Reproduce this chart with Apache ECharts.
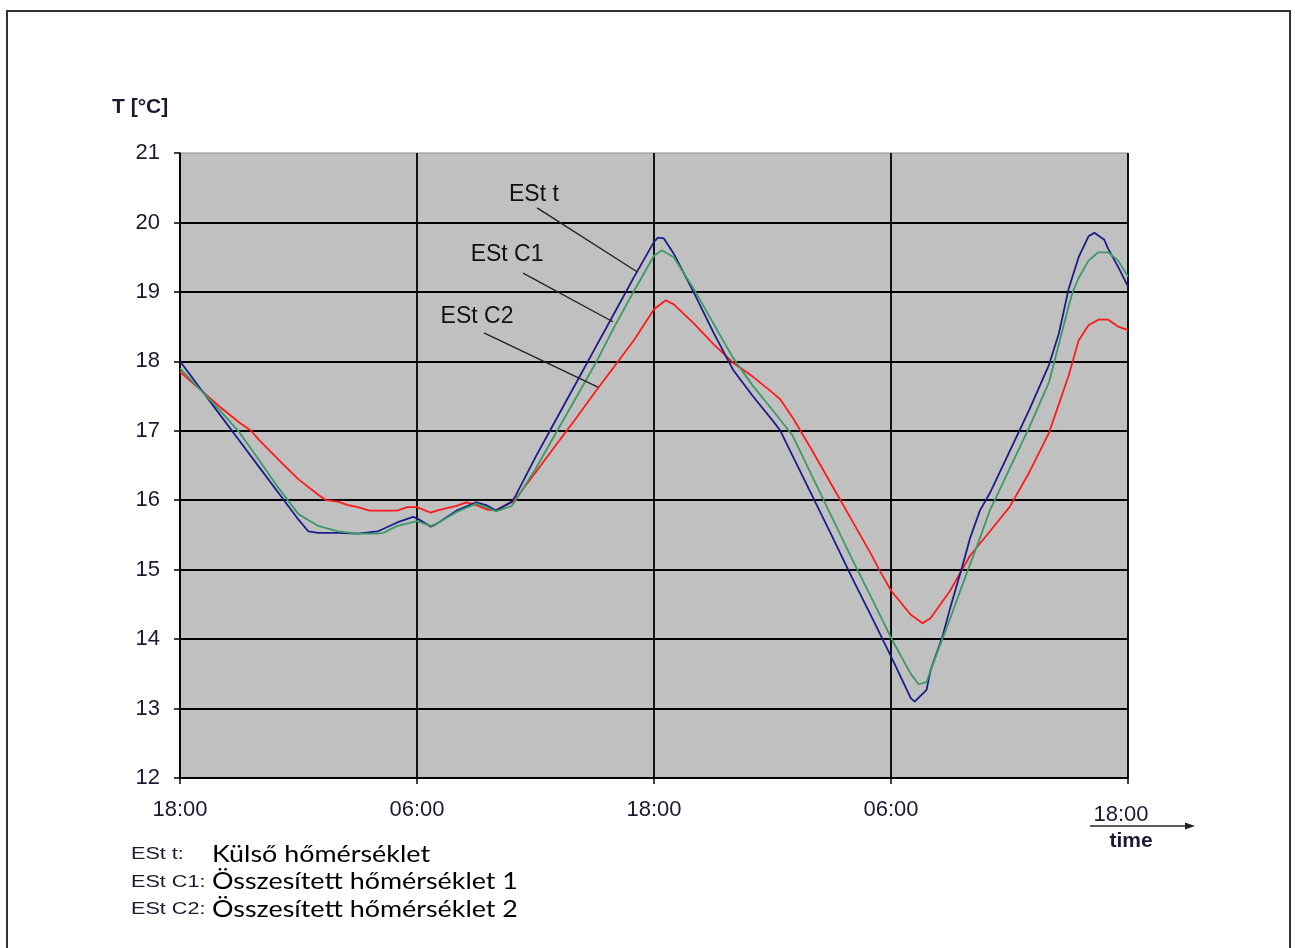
<!DOCTYPE html>
<html>
<head>
<meta charset="utf-8">
<script src="https://cdn.jsdelivr.net/npm/echarts@6/dist/echarts.min.js"></script>
<style>
html,body{margin:0;padding:0;background:#fff;}
#c{width:1295px;height:948px;}
</style>
</head>
<body>
<div id="c"></div>
<script>
// x values are hours elapsed since the first 18:00
var xTickLabels = ['18:00', '06:00', '18:00', '06:00', '18:00'];
var yTicks = [12, 13, 14, 15, 16, 17, 18, 19, 20, 21];

var estT = [
  [0,18.0],[1,17.62],[2,17.24],[3,16.86],[4,16.48],[5,16.1],[6,15.72],[6.5,15.55],[7,15.53],[8,15.53],[9,15.52],[10,15.55],
  [11,15.68],[11.8,15.76],[12,15.74],[12.7,15.62],[13,15.66],[14,15.85],[15,15.97],[15.5,15.93],[16,15.85],[16.8,15.98],
  [17,16.07],[18,16.62],[19,17.14],[20,17.66],[21,18.18],[22,18.7],[23,19.22],[24,19.72],[24.2,19.78],[24.5,19.77],
  [25,19.55],[26,19.0],[27,18.42],[28,17.88],[29,17.5],[30,17.15],[30.4,17.0],[31,16.65],[32,16.07],[33,15.49],
  [34,14.9],[35,14.33],[36,13.75],[37,13.15],[37.2,13.1],[37.8,13.27],[38,13.55],[38.6,14.03],[39,14.45],[39.6,15.04],
  [40,15.45],[40.5,15.85],[41,16.1],[42,16.7],[43,17.3],[44,17.95],[44.5,18.4],[45,19.05],[45.5,19.5],[46,19.8],
  [46.3,19.85],[46.8,19.75],[47,19.62],[47.5,19.36],[48,19.08]
];
var estC1 = [
  [0,17.9],[1,17.6],[2,17.3],[3,16.98],[4,16.58],[5,16.17],[6,15.8],[7,15.63],[8,15.55],[9,15.52],[10,15.52],[10.3,15.53],
  [11,15.63],[12,15.7],[12.7,15.63],[13,15.66],[14,15.83],[15,15.95],[15.5,15.9],[16,15.84],[16.8,15.92],[17,16.0],
  [18,16.45],[19,16.95],[20,17.45],[21,17.95],[22,18.5],[23,19.02],[24,19.52],[24.4,19.6],[25,19.5],[26,19.05],
  [27,18.55],[28,18.05],[29,17.65],[30,17.3],[31,16.94],[32,16.35],[33,15.76],[34,15.17],[35,14.6],[36,14.02],
  [37,13.5],[37.4,13.35],[37.8,13.38],[38,13.55],[38.6,14.0],[39,14.3],[39.9,15.0],[40.5,15.45],[41,15.85],[41.5,16.15],
  [42,16.45],[43,17.05],[44,17.7],[45,18.8],[45.2,19.0],[45.5,19.2],[46,19.45],[46.5,19.57],[47,19.57],[47.5,19.45],[48,19.22]
];
var estC2 = [
  [0,17.85],[1,17.6],[2,17.35],[3,17.12],[3.6,17.0],[4,16.87],[5,16.58],[6,16.3],[7,16.08],[7.4,16.0],[8,15.98],[8.5,15.93],
  [9,15.9],[9.6,15.85],[10,15.85],[11,15.85],[11.5,15.9],[12,15.9],[12.7,15.82],[13,15.85],[14,15.92],[14.5,15.97],
  [15,15.93],[15.6,15.86],[16,15.86],[16.8,15.97],[17,16.02],[18,16.4],[19,16.78],[20,17.16],[21,17.55],[22,17.93],
  [23,18.31],[24,18.75],[24.6,18.88],[25,18.82],[26,18.55],[27,18.25],[28,17.98],[29,17.78],[30,17.55],[30.4,17.45],
  [31,17.2],[32,16.72],[33,16.22],[34,15.72],[35,15.22],[35.4,15.0],[36,14.7],[37,14.35],[37.6,14.23],[38,14.3],
  [39,14.7],[39.5,14.95],[40,15.2],[41,15.55],[42,15.9],[43,16.4],[44,16.97],[45,17.8],[45.5,18.3],[46,18.52],
  [46.5,18.6],[47,18.6],[47.5,18.5],[48,18.45]
];

// annotation labels with leader lines (data coordinates)
var annotNames = ['ESt t', 'ESt C1', 'ESt C2'];
var annotTextAt = [[17.92, 20.40], [16.56, 19.53], [15.04, 18.65]];
var annotLineFrom = [[18.08, 20.21], [17.37, 19.27], [15.39, 18.41]];
var annotLineTo = [[23.14, 19.29], [21.92, 18.57], [21.16, 17.63]];

var legendCodes = ['ESt t:', 'ESt C1:', 'ESt C2:'];
var legendTexts = ['Külső hőmérséklet', 'Összesített hőmérséklet 1', 'Összesített hőmérséklet 2'];

var chart = echarts.init(document.getElementById('c'), null, {renderer: 'canvas'});
var labelColor = '#1a1a33';
var option = {
  animation: false,
  backgroundColor: '#ffffff',
  grid: {left: 180, top: 153, right: 167, bottom: 170, show: true, backgroundColor: '#c0c0c0', borderColor: '#8a8a8a', borderWidth: 1},
  xAxis: {
    type: 'value', min: 0, max: 48, interval: 12,
    axisLine: {show: true, lineStyle: {color: '#000', width: 1.5}},
    axisTick: {show: true, length: 6, lineStyle: {color: '#000', width: 1.5}},
    splitLine: {show: true, lineStyle: {color: '#000', width: 1.8}},
    axisLabel: {
      fontFamily: 'Liberation Sans', fontSize: 22, color: labelColor, margin: 21,
      formatter: function (v) { var k = Math.round(v / 12); return k === xTickLabels.length - 1 ? '' : xTickLabels[k]; }
    }
  },
  yAxis: {
    type: 'value', min: yTicks[0], max: yTicks[yTicks.length - 1], interval: 1,
    axisLine: {show: true, lineStyle: {color: '#000', width: 1.5}},
    axisTick: {show: true, length: 6, lineStyle: {color: '#000', width: 1.5}},
    splitLine: {show: true, showMaxLine: false, lineStyle: {color: '#000', width: 1.8}},
    axisLabel: {fontFamily: 'Liberation Sans', fontSize: 22, color: labelColor, margin: 20}
  },
  series: [
    {name: 'ESt C2', type: 'line', data: estC2, showSymbol: false, lineStyle: {color: '#ff1a1a', width: 1.8}, z: 3},
    {name: 'ESt t', type: 'line', data: estT, showSymbol: false, lineStyle: {color: '#1c1c8c', width: 1.8}, z: 4},
    {name: 'ESt C1', type: 'line', data: estC1, showSymbol: false, lineStyle: {color: '#3a9a68', width: 1.8}, z: 5}
  ]
};
chart.setOption(option);

var g = [];
// figure frame
g.push({type: 'rect', shape: {x: 7, y: 11, width: 1283, height: 960}, style: {fill: null, stroke: '#333', lineWidth: 2}, silent: true, z: 100});
// y axis name
g.push({type: 'text', x: 112, y: 107, style: {text: 'T [°C]', font: 'bold 21px "Liberation Sans"', fill: labelColor, verticalAlign: 'middle'}, z: 100});
// annotations
for (var i = 0; i < annotNames.length; i++) {
  var tp = chart.convertToPixel({gridIndex: 0}, annotTextAt[i]);
  var a = chart.convertToPixel({gridIndex: 0}, annotLineFrom[i]);
  var b = chart.convertToPixel({gridIndex: 0}, annotLineTo[i]);
  g.push({type: 'text', x: tp[0], y: tp[1], style: {text: annotNames[i], font: '23px "Liberation Sans"', fill: '#111', align: 'center', verticalAlign: 'middle'}, z: 100});
  g.push({type: 'line', shape: {x1: a[0], y1: a[1], x2: b[0], y2: b[1]}, style: {stroke: '#222', lineWidth: 1.4}, z: 100});
}
// last time label, underlined by the time arrow
var lastPos = chart.convertToPixel({gridIndex: 0}, [48, 12]);
g.push({type: 'text', x: lastPos[0] - 7, y: lastPos[1] + 37, style: {text: xTickLabels[xTickLabels.length - 1], font: '22px "Liberation Sans"', fill: labelColor, align: 'center', verticalAlign: 'middle'}, z: 100});
g.push({type: 'line', shape: {x1: 1090, y1: 826, x2: 1188, y2: 826}, style: {stroke: '#222', lineWidth: 1.3}, z: 100});
g.push({type: 'polygon', shape: {points: [[1195, 826], [1185, 822.5], [1185, 829.5]]}, style: {fill: '#222'}, z: 100});
g.push({type: 'text', x: 1131, y: 841, style: {text: 'time', font: 'bold 21px "Liberation Sans"', fill: labelColor, align: 'center', verticalAlign: 'middle'}, z: 100});
// legend text block
for (var j = 0; j < legendCodes.length; j++) {
  var yy = 854 + j * 27.5;
  g.push({type: 'text', x: 131, y: yy + 1, scaleX: 1.35, style: {text: legendCodes[j], font: '16px "Liberation Sans"', fill: labelColor, verticalAlign: 'middle'}, z: 100});
  g.push({type: 'text', x: 212, y: yy, scaleX: 1.12, style: {text: legendTexts[j], font: '24px Lato', fill: '#000', verticalAlign: 'middle'}, z: 100});
}
chart.setOption({graphic: {elements: g}});
</script>
</body>
</html>
